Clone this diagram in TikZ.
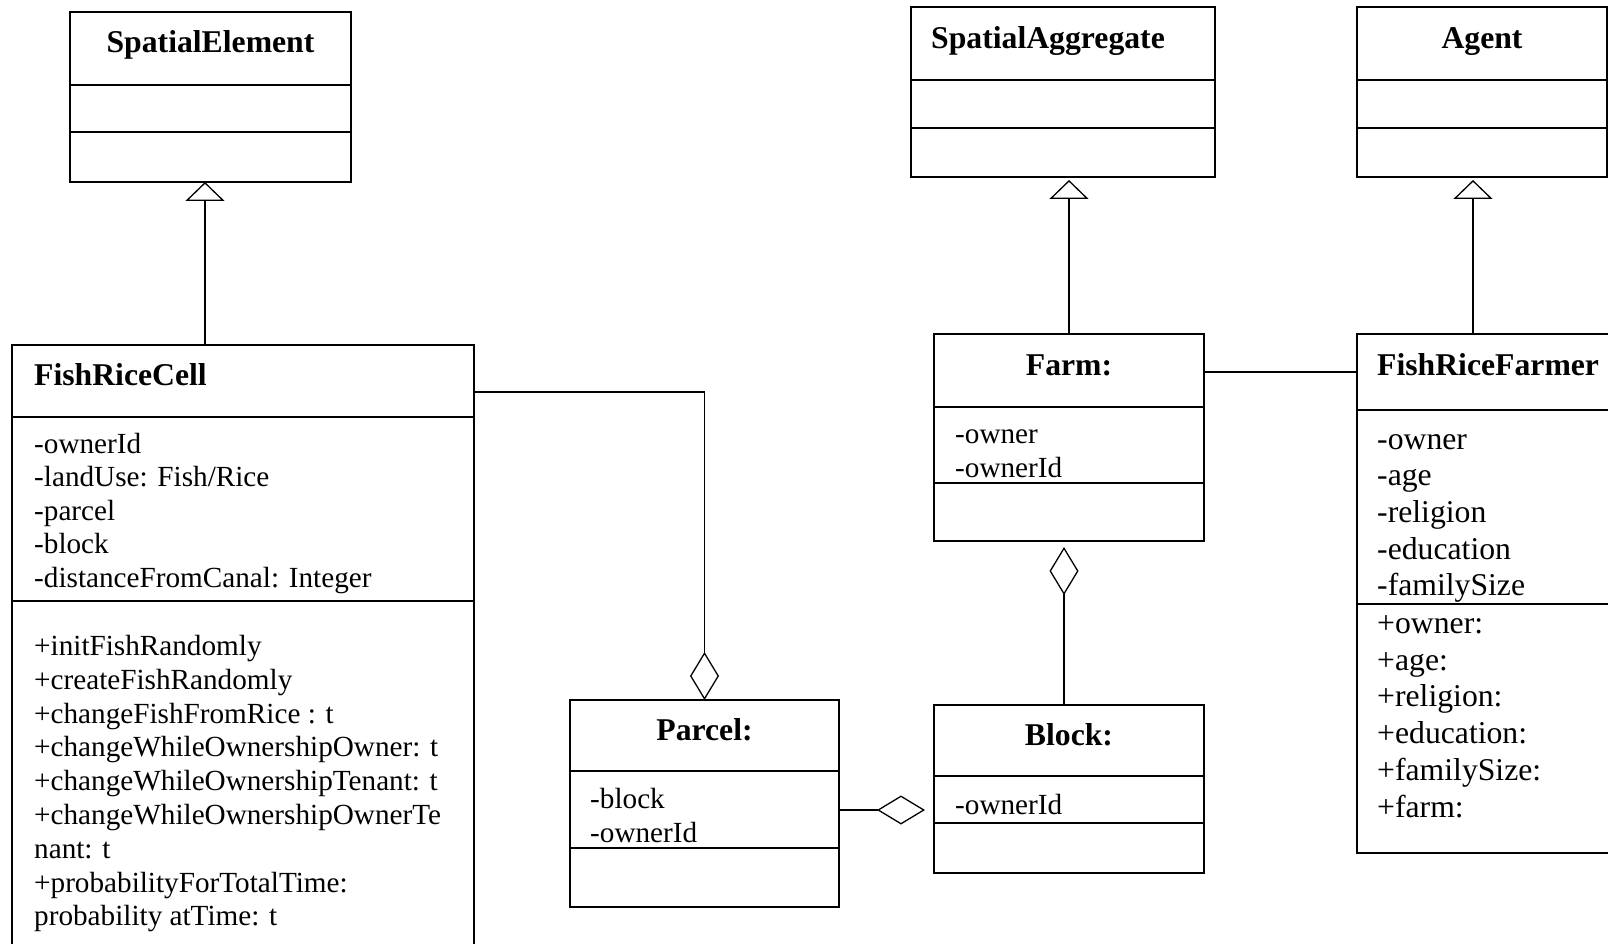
\documentclass[tikz,border=0pt]{standalone}
\usepackage{fontspec}
\setmainfont{Liberation Serif}
\usetikzlibrary{arrows.meta}
\begin{document}
\begin{tikzpicture}[x=1pt,y=-1pt,
  box/.style={draw, line width=1.5pt, inner sep=0pt, outer sep=0pt},
  sep/.style={line width=1.5pt},
  title/.style={font=\fontsize{31.7pt}{36pt}\selectfont\bfseries, inner sep=0pt, anchor=base},
  ltitle/.style={title, anchor=base west},
  attr/.style={font=\fontsize{29.2pt}{33.6pt}\selectfont, inner sep=0pt, anchor=base west},
  battr/.style={font=\fontsize{31.7pt}{36pt}\selectfont, inner sep=0pt, anchor=base west},
  gen/.style={line width=1.3pt, -{Triangle[open, length=19pt, width=39pt]}},
  agg/.style={line width=1.3pt, -{Diamond[open, length=48pt, width=29pt]}},
  assoc/.style={line width=1.3pt}]
\useasboundingbox (0,0) rectangle (1608,944);
\clip (0,0) rectangle (1608,944);

% class boxes
\node[box, minimum width=281pt, minimum height=170pt] (se) at (210.5,97) {};
\node[box, minimum width=304pt, minimum height=170pt] (sa) at (1063,92) {};
\node[box, minimum width=250pt, minimum height=170pt] (agent) at (1482,92) {};
\node[box, minimum width=462pt, minimum height=655pt] (cell) at (243,672.5) {};
\node[box, minimum width=270pt, minimum height=207pt] (farm) at (1069,437.5) {};
\node[box, minimum width=343pt, minimum height=519pt] (farmer) at (1528.5,593.5) {};
\node[box, minimum width=269pt, minimum height=207pt] (parcel) at (704.5,803.5) {};
\node[box, minimum width=270pt, minimum height=168pt] (block) at (1069,789) {};

% compartment separators
\draw[sep] (70,85) -- (351,85) (70,132) -- (351,132);
\draw[sep] (911,80) -- (1215,80) (911,128) -- (1215,128);
\draw[sep] (1357,80) -- (1607,80) (1357,128) -- (1607,128);
\draw[sep] (12,417) -- (474,417) (12,601) -- (474,601);
\draw[sep] (934,407) -- (1204,407) (934,483) -- (1204,483);
\draw[sep] (1357,410) -- (1700,410) (1357,604) -- (1700,604);
\draw[sep] (570,771) -- (839,771) (570,848) -- (839,848);
\draw[sep] (934,776) -- (1204,776) (934,823) -- (1204,823);

% class names
\node[title] (seT) at (210.5,53) {SpatialElement};
\node[ltitle] (saT) at (931,49) {SpatialAggregate};
\node[title] (agentT) at (1482,49) {Agent};
\node[ltitle] (cellT) at (34,385) {FishRiceCell};
\node[title] (farmT) at (1069,375) {Farm:};
\node[ltitle] (farmerT) at (1377,375) {FishRiceFarmer};
\node[title] (parcelT) at (704.5,740) {Parcel:};
\node[title] (blockT) at (1069,745) {Block:};

% FishRiceCell members
\foreach \t [count=\i] in {-ownerId,-landUse: Fish/Rice,-parcel,-block,-distanceFromCanal: Integer}
  \node[attr] (cellA\i) at (34,{453+33.6*(\i-1)}) {\t};
\foreach \t [count=\i] in {+initFishRandomly,+createFishRandomly,+changeFishFromRice : t,+changeWhileOwnershipOwner: t,+changeWhileOwnershipTenant: t,+changeWhileOwnershipOwnerTe,nant: t,+probabilityForTotalTime:,probability atTime: t}
  \node[attr] (cellM\i) at (34,{655.5+33.8*(\i-1)}) {\t};

% Farm, Block and Parcel members
\node[attr] (farmA1) at (955,443) {-owner};
\node[attr] (farmA2) at (955,477) {-ownerId};
\node[attr] (blockA1) at (955,814) {-ownerId};
\node[attr] (parcelA1) at (590,808) {-block};
\node[attr] (parcelA2) at (590,842) {-ownerId};

% FishRiceFarmer members
\foreach \t [count=\i] in {-owner,-age,-religion,-education,-familySize}
  \node[battr] (farmerA\i) at (1377,{449+36.7*(\i-1)}) {\t};
\foreach \t [count=\i] in {+owner:,+age:,+religion:,+education:,+familySize:,+farm:}
  \node[battr] (farmerM\i) at (1377,{633.5+36.7*(\i-1)}) {\t};

% generalisations
\coordinate (seFoot) at ([xshift=-5.5pt]se.south);
\draw[gen] (seFoot |- cell.north) -- (seFoot);
\draw[gen, shorten >=3pt] (farm.north) -- (farm.north |- sa.south);
\coordinate (agFoot) at ([xshift=-9pt]agent.south);
\draw[gen, shorten >=3pt] (agFoot |- farmer.north) -- (agFoot);

% association
\coordinate (farmLink) at ([yshift=-38pt]farm.north east);
\draw[assoc] (farmLink) -- (farmLink -| farmer.west);

% aggregations
\coordinate (blkTop) at ([xshift=-5pt]block.north);
\draw[agg, shorten >=6pt] (blkTop) -- (blkTop |- farm.south);
\coordinate (cellLink) at ([yshift=-47pt]cell.north east);
\draw[agg] (cellLink) -| (parcel.north);
\coordinate (parLink) at ([yshift=-6.5pt]parcel.east);
\draw[agg, shorten >=9pt] (parLink) -- (parLink -| block.west);
\end{tikzpicture}
\end{document}
